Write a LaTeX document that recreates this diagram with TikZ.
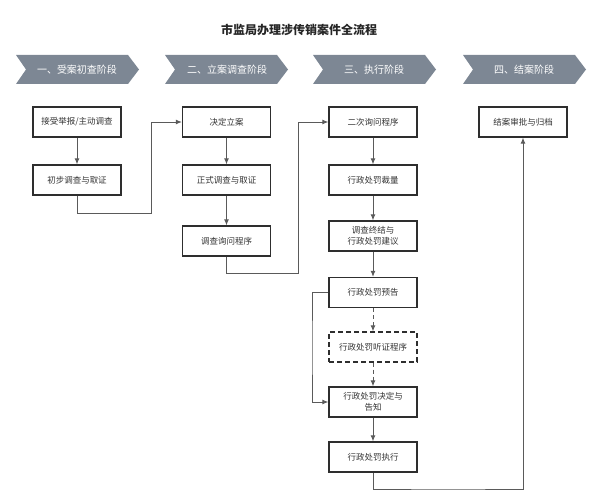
\documentclass[tikz,border=0pt]{standalone}
\usepackage{fontspec}
\newfontfamily\cjk{Noto Sans CJK SC}
\usetikzlibrary{arrows.meta}
\definecolor{chev}{HTML}{7D8794}
\definecolor{lin}{HTML}{5A5A5A}
\definecolor{bord}{HTML}{2E2E2E}
\tikzset{
  box/.style={draw=bord, line width=1.3pt, minimum width=88pt, minimum height=30pt, inner sep=1pt, align=center, font=\cjk\fontsize{8.5}{11}\selectfont, text=black!80},
  dbox/.style={box, dashed, dash pattern=on 5pt off 3pt},
  conn/.style={draw=lin, line width=0.9pt, -{Latex[length=6pt,width=5pt]}},
  dconn/.style={conn, dash pattern=on 4pt off 3pt},
  chevtext/.style={font=\cjk\fontsize{10}{12}\selectfont, text=white},
}
\begin{document}
\begin{tikzpicture}[x=1pt,y=-1pt]
\useasboundingbox (0,0) rectangle (600,503);
\node[font=\cjk\bfseries\fontsize{12}{14}\selectfont, text=black!85] (title) at (299,30) {市监局办理涉传销案件全流程};
% chevrons
\foreach \xl in {16, 165, 313, 463}{
  \fill[chev] (\xl,55) -- ({\xl+112},55) -- ({\xl+123},69.5) -- ({\xl+112},84) -- (\xl,84) -- ({\xl+10},69.5) -- cycle;
}
\node[chevtext] (p1) at (77,70) {一、受案初查阶段};
\node[chevtext] (p2) at (227,70) {二、立案调查阶段};
\node[chevtext] (p3) at (374,70) {三、执行阶段};
\node[chevtext] (p4) at (524,70) {四、结案阶段};
% boxes
\node[box] (a1) at (77,122) {接受举报/主动调查};
\node[box] (a2) at (77,180) {初步调查与取证};
\node[box] (b1) at (226.5,122) {决定立案};
\node[box] (b2) at (226.5,180) {正式调查与取证};
\node[box] (b3) at (226.5,241) {调查询问程序};
\node[box] (c1) at (373,122) {二次询问程序};
\node[box] (c2) at (373,180) {行政处罚裁量};
\node[box] (c3) at (373,236) {调查终结与\\行政处罚建议};
\node[box] (c4) at (373,292.5) {行政处罚预告};
\node[dbox] (c5) at (373,347) {行政处罚听证程序};
\node[box] (c6) at (373,402) {行政处罚决定与\\告知};
\node[box] (c7) at (373,457) {行政处罚执行};
\node[box] (d1) at (523,122) {结案审批与归档};
% connectors
\draw[conn] (a1) -- (a2);
\draw[conn] (a2.south) |- (151,213) |- (b1.west);
\draw[conn] (b1) -- (b2);
\draw[conn] (b2) -- (b3);
\draw[conn] (b3.south) |- (298,273) |- (c1.west);
\draw[conn] (c1) -- (c2);
\draw[conn] (c2) -- (c3);
\draw[conn] (c3) -- (c4);
\draw[dconn] (c4) -- (c5);
\draw[dconn] (c5) -- (c6);
\draw[conn] (c6) -- (c7);
\draw[conn] (c4.west) -| (312,348) |- (c6.west);
\draw[conn] (c7.south) |- (448,489) -| (d1.south);
\end{tikzpicture}
\end{document}
